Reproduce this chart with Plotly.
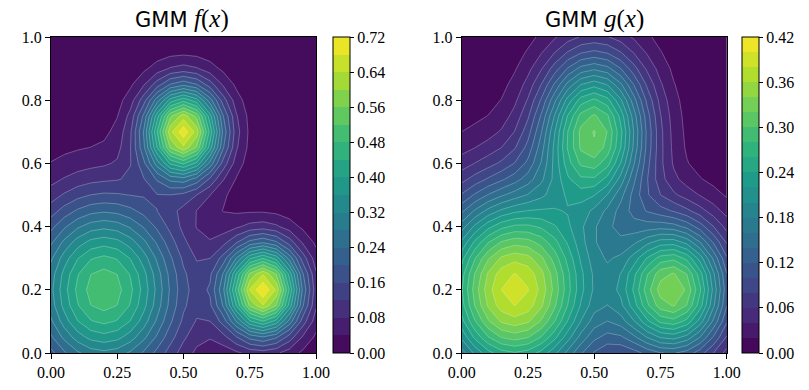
import numpy as np
import plotly.graph_objects as go
from plotly.colors import sample_colorscale

# Grid on which the mixtures are evaluated
grid_x = np.linspace(0.0, 1.0, 21)
grid_y = np.linspace(0.0, 1.0, 21)

# GMM f(x): component parameters
f_mean_x = [0.2, 0.5, 0.8]
f_mean_y = [0.2, 0.7, 0.2]
f_sigma_x = [0.20, 0.10, 0.10]
f_sigma_y = [0.20, 0.10, 0.10]
f_amp = [0.51, 0.70, 0.715]

# GMM g(x): component parameters
g_mean_x = [0.2, 0.5, 0.8]
g_mean_y = [0.2, 0.7, 0.2]
g_sigma_x = [0.22, 0.14, 0.145]
g_sigma_y = [0.22, 0.17, 0.15]
g_amp = [0.39, 0.31, 0.33]

# contour levels / colorbar ticks
f_levels = dict(start=0.0, end=0.72, size=0.04)
g_levels = dict(start=0.0, end=0.42, size=0.02)
f_cbar_ticks = [0.00, 0.08, 0.16, 0.24, 0.32, 0.40, 0.48, 0.56, 0.64, 0.72]
g_cbar_ticks = [0.00, 0.06, 0.12, 0.18, 0.24, 0.30, 0.36, 0.42]
x_ticks = [0.0, 0.25, 0.5, 0.75, 1.0]
y_ticks = [0.0, 0.2, 0.4, 0.6, 0.8, 1.0]


def mixture(mx, my, sx, sy, amp):
    X, Y = np.meshgrid(grid_x, grid_y)
    Z = np.zeros_like(X)
    for a, b, c, d, w in zip(mx, my, sx, sy, amp):
        Z += w * np.exp(-0.5 * (((X - a) / c) ** 2 + ((Y - b) / d) ** 2))
    return Z


def band_colors(lv):
    nb = int(round((lv["end"] - lv["start"]) / lv["size"]))
    return nb, sample_colorscale("Viridis", [(k + 0.5) / nb for k in range(nb)])


def contour_scale(lv):
    # plotly maps the contour colours over [start - size/2, end + size/2]
    nb, cols = band_colors(lv)
    nc = nb + 1
    cs = []
    for k, c in enumerate(cols):
        lo = 0.0 if k == 0 else (k + 0.5) / nc
        hi = 1.0 if k == nb - 1 else (k + 1.5) / nc
        cs.append([lo, c])
        cs.append([hi, c])
    return cs


def bar_scale(lv):
    nb, cols = band_colors(lv)
    cs = []
    for k, c in enumerate(cols):
        cs.append([k / nb, c])
        cs.append([(k + 1) / nb, c])
    return cs


W, H = 809, 390
serif = "Liberation Serif"
tickfont = dict(family=serif, size=16, color="black")

f_z = mixture(f_mean_x, f_mean_y, f_sigma_x, f_sigma_y, f_amp)
g_z = mixture(g_mean_x, g_mean_y, g_sigma_x, g_sigma_y, g_amp)

panels = [
    dict(z=f_z, lv=f_levels, ticks=f_cbar_ticks, ax=(51, 316), cb=(332.5, 349), title="f"),
    dict(z=g_z, lv=g_levels, ticks=g_cbar_ticks, ax=(461.7, 726.7), cb=(742, 759), title="g"),
]
top, bottom = 37, 353

fig = go.Figure()
for i, p in enumerate(panels):
    xa = "x" if i == 0 else "x2"
    ya = "y" if i == 0 else "y2"
    fig.add_trace(go.Contour(
        x=grid_x, y=grid_y, z=p["z"],
        xaxis=xa, yaxis=ya,
        contours=dict(start=p["lv"]["start"], end=p["lv"]["end"], size=p["lv"]["size"],
                      coloring="fill", showlines=True),
        line=dict(color="rgba(255,255,255,0.45)", width=0.6, smoothing=0),
        colorscale=contour_scale(p["lv"]),
        showscale=False,
        hoverinfo="skip",
    ))
    fig.add_trace(go.Scatter(
        x=[None], y=[None], xaxis=xa, yaxis=ya, mode="markers", hoverinfo="skip",
        marker=dict(color=[p["lv"]["start"]], cmin=p["lv"]["start"], cmax=p["lv"]["end"],
                    colorscale=bar_scale(p["lv"]), showscale=True,
                    colorbar=dict(
                        x=p["cb"][0] / W, xanchor="left", xpad=0, ypad=0,
                        y=0.5, yanchor="middle", len=(bottom - top) / H, lenmode="fraction",
                        thickness=p["cb"][1] - p["cb"][0], thicknessmode="pixels",
                        outlinewidth=1, outlinecolor="black",
                        tickmode="array", tickvals=p["ticks"],
                        ticktext=[f"{t:.2f}" for t in p["ticks"]],
                        ticks="outside", ticklen=4, tickwidth=1, tickcolor="black",
                        tickfont=tickfont,
                    )),
    ))

axis_common = dict(range=[0, 1], showgrid=False, zeroline=False, showline=True, linecolor="black",
                   linewidth=1, mirror=True, ticks="outside", ticklen=5, tickwidth=1,
                   tickcolor="black", tickfont=tickfont, automargin=False)
yd = [(H - bottom) / H, (H - top) / H]
fig.update_layout(
    width=W, height=H, margin=dict(l=0, r=0, t=0, b=0, autoexpand=False),
    font=dict(family=serif, size=16, color="black"),
    paper_bgcolor="white", plot_bgcolor="white", showlegend=False,
    xaxis=dict(domain=[panels[0]["ax"][0] / W, panels[0]["ax"][1] / W], anchor="y",
               tickvals=x_ticks, ticktext=[f"{t:.2f}" for t in x_ticks], **axis_common),
    yaxis=dict(domain=yd, anchor="x", tickvals=y_ticks, ticktext=[f"{t:.1f}" for t in y_ticks], **axis_common),
    xaxis2=dict(domain=[panels[1]["ax"][0] / W, panels[1]["ax"][1] / W], anchor="y2",
                tickvals=x_ticks, ticktext=[f"{t:.2f}" for t in x_ticks], **axis_common),
    yaxis2=dict(domain=yd, anchor="x2", tickvals=y_ticks, ticktext=[f"{t:.1f}" for t in y_ticks], **axis_common),
)

for p in panels:
    cx = (p["ax"][0] + p["ax"][1]) / 2
    # "GMM" in sans, "f(x)" as math italic serif
    fig.add_annotation(
        x=(cx - 53 + 2) / W, y=(H - 34) / H, xref="paper", yref="paper", xanchor="left", yanchor="bottom",
        showarrow=False, text="GMM",
        font=dict(family="DejaVu Sans", size=21, color="black"),
    )
    fig.add_annotation(
        x=(cx + 8) / W, y=(H - 35) / H, xref="paper", yref="paper", xanchor="left", yanchor="bottom",
        showarrow=False, text=f"<i>{p['title']}</i>(<i>x</i>)",
        font=dict(family=serif, size=25, color="black"),
    )

fig.write_html("out.html", config={"displayModeBar": False},
               post_script="document.body.style.margin='0';document.body.style.overflow='hidden';")
